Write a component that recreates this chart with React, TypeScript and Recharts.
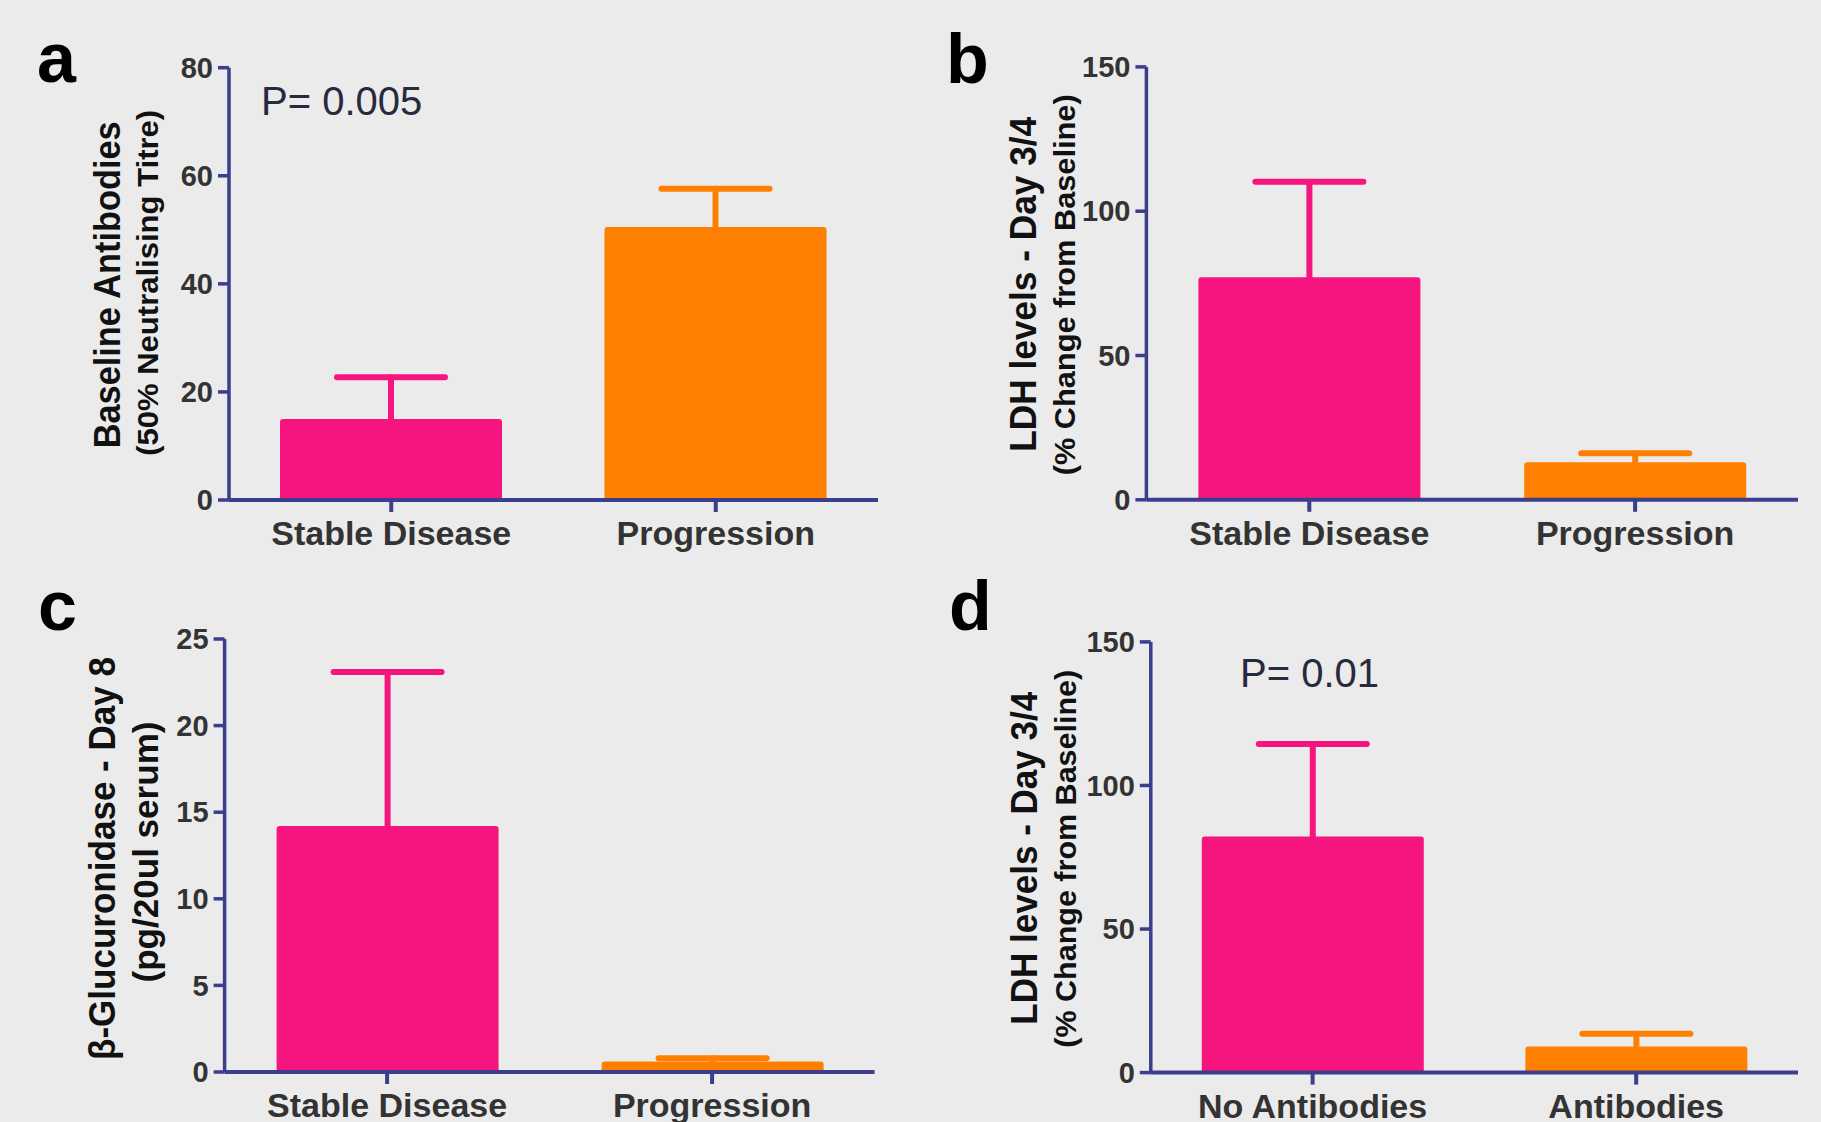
import React from 'react';
import { BarChart, Bar, XAxis, YAxis, ErrorBar } from 'recharts';

const PINK = '#F6157F';
const ORANGE = '#FF8000';
const AXIS = '#3A3E8C';
const BG = '#EBEBEB';
const FONT = '"Liberation Sans", Arial, Helvetica, sans-serif';

// a - baseline antibodies
const groupsA = ['Stable Disease', 'Progression'];
const meanA = [15, 50.5];
const errA = [7.7, 7.1];
const ticksA = [0, 20, 40, 60, 80];

// b - LDH day 3/4 by outcome
const groupsB = ['Stable Disease', 'Progression'];
const meanB = [77.1, 13];
const errB = [33.1, 3.1];
const ticksB = [0, 50, 100, 150];

// c - beta-glucuronidase day 8
const groupsC = ['Stable Disease', 'Progression'];
const meanC = [14.2, 0.6];
const errC = [8.9, 0.2];
const ticksC = [0, 5, 10, 15, 20, 25];

// d - LDH day 3/4 by antibody status
const groupsD = ['No Antibodies', 'Antibodies'];
const meanD = [82.2, 9.1];
const errD = [32.2, 4.4];
const ticksD = [0, 50, 100, 150];

type TitleLine = { text: string; dx: number; dy: number; size: number; len: number };

// two-line rotated y axis title, placed from the axis viewBox
const AxisTitle = ({ viewBox, lines }: any) => {
  if (!viewBox) return null;
  const left = viewBox.x + viewBox.width;
  const cy = viewBox.y + viewBox.height / 2;
  return (
    <g>
      {lines.map((l: TitleLine) => (
        <text
          key={l.text}
          transform={`translate(${left + l.dx},${cy + l.dy}) rotate(-90)`}
          textAnchor="middle"
          fontFamily={FONT}
          fontWeight="bold"
          fontSize={l.size}
          textLength={l.len}
          lengthAdjust="spacingAndGlyphs"
          fill="#111"
        >
          {l.text}
        </text>
      ))}
    </g>
  );
};

type PanelProps = {
  left: number;
  top: number;
  margin: { top: number; right: number; bottom: number; left: number };
  groups: string[];
  means: number[];
  errs: number[];
  ticks: number[];
  title: TitleLine[];
};

const Panel = ({ left, top, margin, groups, means, errs, ticks, title }: PanelProps) => {
  // one stacked series per group so each error bar can take its bar colour
  const rows = groups.map((g, i) => ({
    group: g,
    first: i === 0 ? means[i] : null,
    firstErr: i === 0 ? errs[i] : null,
    second: i === 1 ? means[i] : null,
    secondErr: i === 1 ? errs[i] : null,
  }));

  return (
    <div style={{ position: 'absolute', left, top }}>
      <BarChart width={910} height={561} data={rows} margin={margin}>
        <XAxis
          dataKey="group"
          height={40}
          interval={0}
          axisLine={{ stroke: AXIS, strokeWidth: 4 }}
          tickLine={{ stroke: AXIS, strokeWidth: 4 }}
          tickSize={12}
          tickMargin={9}
          tick={{ fill: '#333', fontSize: 34, fontWeight: 700, fontFamily: FONT }}
        />
        <YAxis
          width={100}
          domain={[0, ticks[ticks.length - 1]]}
          ticks={ticks}
          interval={0}
          axisLine={{ stroke: AXIS, strokeWidth: 3.5 }}
          tickLine={{ stroke: AXIS, strokeWidth: 3.5 }}
          tickSize={11}
          tickMargin={5}
          tick={{ fill: '#333', fontSize: 29, fontWeight: 700, fontFamily: FONT }}
          label={<AxisTitle lines={title} />}
        />
        <Bar dataKey="first" stackId="s" fill={PINK} barSize={222} radius={[3, 3, 0, 0]} isAnimationActive={false}>
          <ErrorBar dataKey="firstErr" width={54} strokeWidth={6} stroke={PINK} strokeLinecap="round" isAnimationActive={false} />
        </Bar>
        <Bar dataKey="second" stackId="s" fill={ORANGE} barSize={222} radius={[3, 3, 0, 0]} isAnimationActive={false}>
          <ErrorBar dataKey="secondErr" width={54} strokeWidth={6} stroke={ORANGE} strokeLinecap="round" isAnimationActive={false} />
        </Bar>
      </BarChart>
    </div>
  );
};

const App = () => {
  return (
    <div
      style={{
        position: 'absolute',
        left: 0,
        top: 0,
        width: 1821,
        height: 1122,
        background: BG,
        overflow: 'hidden',
        fontFamily: FONT,
      }}
    >
      <Panel
        left={0}
        top={0}
        margin={{ top: 67.7, right: 32, bottom: 21, left: 129 }}
        groups={groupsA}
        means={meanA}
        errs={errA}
        ticks={ticksA}
        title={[
          { text: 'Baseline Antibodies', dx: -109, dy: 1, size: 36, len: 327 },
          { text: '(50% Neutralising Titre)', dx: -71, dy: -1, size: 30, len: 346 },
        ]}
      />
      <Panel
        left={910}
        top={0}
        margin={{ top: 66.9, right: 22, bottom: 21.2, left: 136.4 }}
        groups={groupsB}
        means={meanB}
        errs={errB}
        ticks={ticksB}
        title={[
          { text: 'LDH levels - Day 3/4', dx: -110, dy: 1, size: 36, len: 335 },
          { text: '(% Change from Baseline)', dx: -71, dy: 1.5, size: 30, len: 381 },
        ]}
      />
      <Panel
        left={0}
        top={561}
        margin={{ top: 78, right: 35.4, bottom: 10, left: 124.6 }}
        groups={groupsC}
        means={meanC}
        errs={errC}
        ticks={ticksC}
        title={[
          { text: 'β-Glucuronidase - Day 8', dx: -110, dy: 3, size: 36, len: 403 },
          { text: '(pg/20ul serum)', dx: -67, dy: -3.5, size: 35, len: 261 },
        ]}
      />
      <Panel
        left={910}
        top={561}
        margin={{ top: 80.9, right: 22, bottom: 9.4, left: 140.8 }}
        groups={groupsD}
        means={meanD}
        errs={errD}
        ticks={ticksD}
        title={[
          { text: 'LDH levels - Day 3/4', dx: -114, dy: 1, size: 36, len: 333 },
          { text: '(% Change from Baseline)', dx: -75, dy: 1.5, size: 30, len: 378 },
        ]}
      />
      <svg
        width={1821}
        height={1122}
        style={{ position: 'absolute', left: 0, top: 0, pointerEvents: 'none' }}
      >
        <g fontFamily={FONT} fontWeight="bold" fontSize={70} fill="#000">
          <text x={37} y={82}>a</text>
          <text x={946} y={83}>b</text>
          <text x={38} y={630}>c</text>
          <text x={949} y={630}>d</text>
        </g>
        <g fontFamily={FONT} fontSize={40} fill="#272A3E">
          <text x={261} y={115}>P= 0.005</text>
          <text x={1240} y={687}>P= 0.01</text>
        </g>
      </svg>
    </div>
  );
};

export default App;
